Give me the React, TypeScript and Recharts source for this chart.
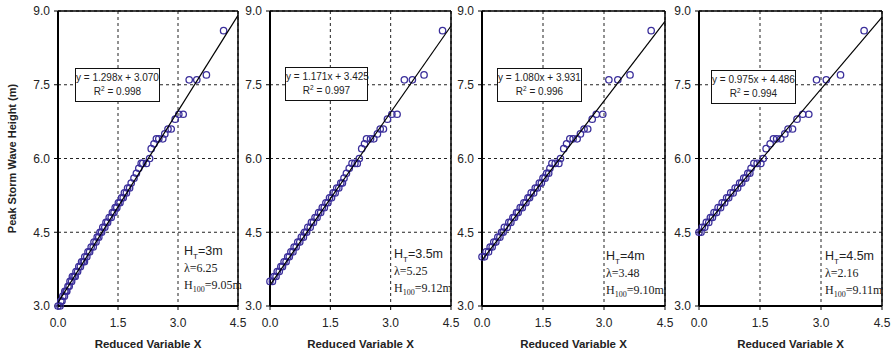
import { CartesianGrid, ReferenceLine, Scatter, ScatterChart, XAxis, YAxis } from "recharts";

// reduced variable X, peak storm wave height (m)
const pointsHt3: [number, number][] = [
  [0.0, 3.0], [0.05, 3.0], [0.07, 3.1], [0.1, 3.1], [0.12, 3.2], [0.16, 3.2],
  [0.17, 3.3], [0.2, 3.3], [0.22, 3.3], [0.25, 3.4], [0.28, 3.4], [0.3, 3.5], [0.34, 3.5],
  [0.36, 3.6], [0.4, 3.6], [0.43, 3.6], [0.45, 3.7], [0.49, 3.7], [0.52, 3.8], [0.56, 3.8],
  [0.59, 3.9], [0.63, 3.9], [0.66, 3.9], [0.67, 4.0], [0.72, 4.0], [0.75, 4.1], [0.79, 4.1],
  [0.83, 4.2], [0.88, 4.2], [0.9, 4.3], [0.95, 4.3], [0.98, 4.4], [1.02, 4.4], [1.05, 4.5],
  [1.09, 4.5], [1.12, 4.6], [1.17, 4.6], [1.2, 4.7], [1.24, 4.7], [1.28, 4.8], [1.33, 4.8],
  [1.36, 4.9], [1.4, 4.9], [1.43, 5.0], [1.47, 5.0], [1.51, 5.1], [1.55, 5.1], [1.59, 5.2],
  [1.63, 5.2], [1.66, 5.3], [1.71, 5.3], [1.74, 5.4], [1.79, 5.4], [1.83, 5.5], [1.9, 5.6],
  [1.96, 5.7], [2.02, 5.8], [2.08, 5.9], [2.12, 5.9], [2.21, 5.9], [2.29, 6.0], [2.33, 6.2],
  [2.4, 6.3], [2.46, 6.4], [2.52, 6.4], [2.62, 6.4], [2.67, 6.5], [2.75, 6.6], [2.83, 6.6],
  [2.93, 6.8], [3.02, 6.9], [3.13, 6.9], [3.28, 7.6], [3.47, 7.6], [3.71, 7.7], [4.14, 8.6],
];

const pointsHt35: [number, number][] = [
  [0.0, 3.5], [0.06, 3.5], [0.1, 3.6], [0.15, 3.6], [0.18, 3.7], [0.23, 3.7], [0.27, 3.8],
  [0.31, 3.8], [0.35, 3.9], [0.4, 3.9], [0.44, 4.0], [0.48, 4.0], [0.52, 4.1], [0.57, 4.1],
  [0.6, 4.2], [0.65, 4.2], [0.69, 4.3], [0.74, 4.3], [0.78, 4.4], [0.83, 4.4], [0.86, 4.5],
  [0.91, 4.5], [0.94, 4.6], [1.0, 4.6], [1.03, 4.7], [1.08, 4.7], [1.12, 4.8], [1.17, 4.8],
  [1.21, 4.9], [1.26, 4.9], [1.3, 5.0], [1.35, 5.0], [1.39, 5.1], [1.44, 5.1], [1.48, 5.2],
  [1.53, 5.2], [1.57, 5.3], [1.62, 5.3], [1.66, 5.4], [1.71, 5.4], [1.76, 5.5], [1.8, 5.5],
  [1.84, 5.6], [1.9, 5.7], [1.97, 5.8], [2.04, 5.9], [2.11, 5.9], [2.17, 5.9], [2.22, 6.0],
  [2.28, 6.2], [2.35, 6.3], [2.4, 6.4], [2.5, 6.4], [2.58, 6.4], [2.67, 6.5], [2.74, 6.6],
  [2.82, 6.6], [2.92, 6.8], [3.03, 6.9], [3.16, 6.9], [3.34, 7.6], [3.54, 7.6], [3.83, 7.7],
  [4.29, 8.6],
];

const pointsHt4: [number, number][] = [
  [0.0, 4.0], [0.06, 4.0], [0.1, 4.1], [0.16, 4.1], [0.2, 4.2], [0.25, 4.2], [0.29, 4.3],
  [0.34, 4.3], [0.39, 4.4], [0.44, 4.4], [0.48, 4.5], [0.52, 4.5], [0.55, 4.6], [0.62, 4.6],
  [0.66, 4.7], [0.71, 4.7], [0.76, 4.8], [0.8, 4.8], [0.85, 4.9], [0.89, 4.9], [0.94, 5.0],
  [0.99, 5.0], [1.03, 5.1], [1.08, 5.1], [1.13, 5.2], [1.17, 5.2], [1.21, 5.3], [1.27, 5.3],
  [1.31, 5.4], [1.36, 5.4], [1.41, 5.5], [1.46, 5.5], [1.5, 5.6], [1.55, 5.6], [1.59, 5.7],
  [1.64, 5.7], [1.67, 5.8], [1.72, 5.9], [1.8, 5.9], [1.89, 5.9], [1.93, 6.0], [2.01, 6.2],
  [2.08, 6.3], [2.16, 6.4], [2.24, 6.4], [2.34, 6.4], [2.42, 6.5], [2.51, 6.6], [2.6, 6.6],
  [2.71, 6.8], [2.81, 6.9], [2.97, 6.9], [3.12, 7.6], [3.34, 7.6], [3.64, 7.7], [4.16, 8.6],
];

const pointsHt45: [number, number][] = [
  [0.0, 4.5], [0.05, 4.5], [0.08, 4.6], [0.14, 4.6], [0.18, 4.7], [0.24, 4.7], [0.28, 4.8],
  [0.33, 4.8], [0.37, 4.9], [0.43, 4.9], [0.47, 5.0], [0.53, 5.0], [0.57, 5.1], [0.63, 5.1],
  [0.68, 5.2], [0.73, 5.2], [0.78, 5.3], [0.84, 5.3], [0.89, 5.4], [0.95, 5.4], [1.0, 5.5],
  [1.05, 5.5], [1.1, 5.6], [1.15, 5.6], [1.2, 5.7], [1.25, 5.7], [1.28, 5.8], [1.35, 5.9],
  [1.43, 5.9], [1.52, 5.9], [1.58, 6.0], [1.65, 6.2], [1.75, 6.3], [1.83, 6.4], [1.91, 6.4],
  [2.01, 6.4], [2.11, 6.5], [2.19, 6.6], [2.3, 6.6], [2.41, 6.8], [2.55, 6.9], [2.7, 6.9],
  [2.89, 7.6], [3.13, 7.6], [3.48, 7.7], [4.06, 8.6],
];

const slopes = [1.298, 1.171, 1.08, 0.975];
const intercepts = [3.07, 3.425, 3.931, 4.486];
const rSquared = ["0.998", "0.997", "0.996", "0.994"];
const thresholds = ["3m", "3.5m", "4m", "4.5m"];
const lambdas = ["6.25", "5.25", "3.48", "2.16"];
const h100 = ["9.05m", "9.12m", "9.10m", "9.11m"];

const xTicks = [0, 1.5, 3.0, 4.5];
const yTicks = [3.0, 4.5, 6.0, 7.5, 9.0];

const allPoints = [pointsHt3, pointsHt35, pointsHt4, pointsHt45];

// layout of the four panels in page pixels
const layout = [
  { plotLeft: 58, plotRight: 238, box: [75, 68, 85], note: [184, 243] },
  { plotLeft: 270, plotRight: 451, box: [285, 67, 83], note: [394, 246] },
  { plotLeft: 482, plotRight: 665, box: [497, 68, 85], note: [606, 248] },
  { plotLeft: 699, plotRight: 882, box: [711, 70, 85], note: [825, 248] },
];

const MARKER = "#3b2f9b";
const sans = "'Liberation Sans', Arial, sans-serif";
const serif = "'Liberation Serif', 'Times New Roman', serif";

const ring = (props: any) => (
  <circle cx={props.cx} cy={props.cy} r={3.2} fill="none" stroke={MARKER} strokeWidth={1.3} />
);

function Panel({ idx }: { idx: number }) {
  const lay = layout[idx];
  const yAxisWidth = idx === 0 ? 58 : 40;
  const rightPad = 14;
  const plotW = lay.plotRight - lay.plotLeft;
  const data = allPoints[idx].map(([x, y]) => ({ x, y }));
  const trend = [0, 4.5].map((x) => ({ x, y: slopes[idx] * x + intercepts[idx] }));

  return (
    <div style={{ position: "absolute", left: lay.plotLeft - yAxisWidth, top: 0, zIndex: 1 }}>
      <ScatterChart
        width={yAxisWidth + plotW + rightPad}
        height={354}
        margin={{ top: 11, right: rightPad, bottom: 0, left: 0 }}
      >
        <CartesianGrid stroke="#222" strokeDasharray="3 3" strokeWidth={1} />
        <XAxis
          type="number"
          dataKey="x"
          domain={[0, 4.5]}
          ticks={xTicks}
          interval={0}
          height={48}
          tickFormatter={(v) => v.toFixed(1)}
          tick={{ fontSize: 12, fill: "#222", fontFamily: sans }}
          tickSize={4}
          tickMargin={8}
          axisLine={{ stroke: "#000", strokeWidth: 2 }}
          tickLine={{ stroke: "#000" }}
          label={{
            value: "Reduced Variable X",
            position: "insideBottom",
            offset: 6,
            style: { fontSize: 11.5, fontWeight: "bold", fill: "#222", fontFamily: sans },
          }}
        />
        <YAxis
          type="number"
          dataKey="y"
          domain={[3, 9]}
          ticks={yTicks}
          interval={0}
          width={yAxisWidth}
          tickFormatter={(v) => v.toFixed(1)}
          tick={{ fontSize: 12, fill: "#222", fontFamily: sans }}
          tickSize={4}
          tickMargin={4}
          axisLine={{ stroke: "#000", strokeWidth: 2 }}
          tickLine={{ stroke: "#000" }}
          label={
            idx === 0
              ? {
                  value: "Peak Storm Wave Height (m)",
                  angle: -90,
                  position: "center",
                  dx: -17,
                  style: { fontSize: 11, fontWeight: "bold", fill: "#222", fontFamily: sans },
                }
              : undefined
          }
        />
        <ReferenceLine y={9} stroke="#000" strokeWidth={1.5} />
        <ReferenceLine x={4.5} stroke="#000" strokeWidth={1.5} />
        <Scatter data={data} shape={ring} isAnimationActive={false} />
        <Scatter
          data={trend}
          line={{ stroke: "#000", strokeWidth: 1.2 }}
          shape={() => <g />}
          isAnimationActive={false}
        />
      </ScatterChart>
    </div>
  );
}

function Notes({ idx }: { idx: number }) {
  const lay = layout[idx];
  const [bx, by, bw] = lay.box;
  const [nx, ny] = lay.note;
  return (
    <>
      <div
        style={{
          position: "absolute",
          zIndex: 10,
          left: bx,
          top: by,
          width: bw,
          height: 34,
          border: "1px solid #111",
          background: "#fff",
          boxSizing: "border-box",
          fontFamily: sans,
          fontSize: 10,
          color: "#222",
          textAlign: "center",
          lineHeight: "14px",
          paddingTop: 2,
          whiteSpace: "nowrap",
        }}
      >
        <div>y = {slopes[idx].toFixed(3)}x + {intercepts[idx].toFixed(3)}</div>
        <div>
          R<sup style={{ fontSize: 6.5, verticalAlign: "4px", lineHeight: 0 }}>2</sup> = {rSquared[idx]}
        </div>
      </div>
      <div
        style={{
          position: "absolute",
          zIndex: 10,
          left: nx,
          top: ny,
          color: "#222",
          lineHeight: "17px",
          whiteSpace: "nowrap",
        }}
      >
        <div style={{ fontFamily: sans, fontSize: 12.5 }}>
          H<sub style={{ fontSize: 8, lineHeight: 0 }}>T</sub>=
          {thresholds[idx]}
        </div>
        <div style={{ fontFamily: serif, fontSize: 12 }}>λ={lambdas[idx]}</div>
        <div style={{ fontFamily: serif, fontSize: 12 }}>
          H<sub style={{ fontSize: 8, lineHeight: 0 }}>100</sub>={h100[idx]}
        </div>
      </div>
    </>
  );
}

export default function App() {
  return (
    <div
      style={{
        position: "absolute",
        left: 0,
        top: 0,
        width: 894,
        height: 354,
        background: "#fff",
        fontFamily: sans,
        overflow: "hidden",
      }}
    >
      {[0, 1, 2, 3].map((i) => (
        <Panel key={`p${i}`} idx={i} />
      ))}
      {[0, 1, 2, 3].map((i) => (
        <Notes key={`n${i}`} idx={i} />
      ))}
    </div>
  );
}
